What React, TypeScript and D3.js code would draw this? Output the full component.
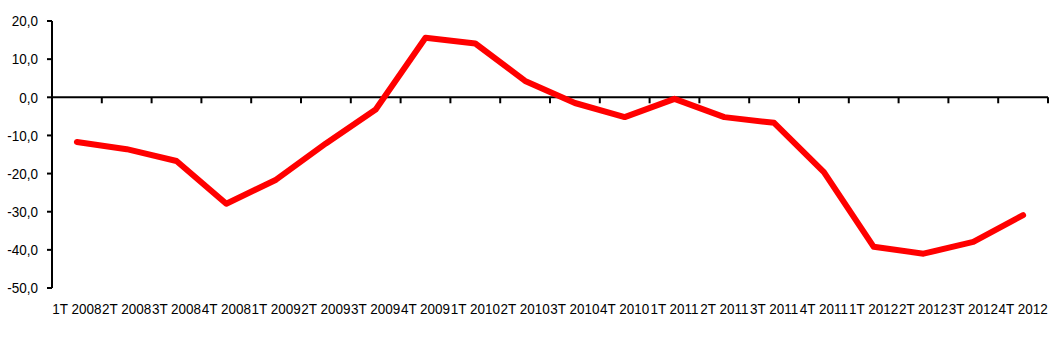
import React from "react";
import * as d3 from "d3";

const categories = [
  "1T 2008", "2T 2008", "3T 2008", "4T 2008",
  "1T 2009", "2T 2009", "3T 2009", "4T 2009",
  "1T 2010", "2T 2010", "3T 2010", "4T 2010",
  "1T 2011", "2T 2011", "3T 2011", "4T 2011",
  "1T 2012", "2T 2012", "3T 2012", "4T 2012",
];
const values = [
  -11.7, -13.6, -16.7, -27.9,
  -21.6, -12.1, -3.2, 15.6,
  14.1, 4.3, -1.5, -5.2,
  -0.4, -5.2, -6.7, -19.6,
  -39.2, -41.0, -37.9, -30.9,
];
const yTicks = [20, 10, 0, -10, -20, -30, -40, -50];

const W = 1062;
const H = 348;
const left = 52;
const right = 1048;
const top = 21;
const bottom = 288;

export default function App() {
  const x = d3.scaleBand<string>().domain(categories).range([left, right]).padding(0);
  const y = d3.scaleLinear().domain([-50, 20]).range([bottom, top]);
  const line = d3
    .line<number>()
    .x((_, i) => (x(categories[i]) as number) + x.bandwidth() / 2)
    .y((d) => y(d));
  const y0 = y(0);
  const font = "'Liberation Sans', Arial, sans-serif";
  const boundaries = categories.map((c) => (x(c) as number) + x.bandwidth());

  return (
    <svg
      width={W}
      height={H}
      style={{ position: "absolute", left: 0, top: 0, background: "#fff" }}
    >
      {/* y axis */}
      <line x1={left} x2={left} y1={top} y2={bottom} stroke="#000" strokeWidth={2} />
      {yTicks.map((t) => (
        <g key={t}>
          <line x1={left - 5} x2={left} y1={y(t)} y2={y(t)} stroke="#000" strokeWidth={2} />
          <text
            transform={`translate(38,${y(t) + 5.3}) scale(0.9,1)`}
            textAnchor="end"
            fontFamily={font}
            fontSize={15}
            fill="#000"
          >
            {d3.format(".1f")(t).replace(".", ",").replace("−", "-")}
          </text>
        </g>
      ))}
      {/* x axis at zero */}
      <line x1={left - 1} x2={right} y1={y0} y2={y0} stroke="#000" strokeWidth={2} />
      {boundaries.map((b, i) => (
        <line key={i} x1={b} x2={b} y1={y0} y2={y0 + 6} stroke="#000" strokeWidth={2} />
      ))}
      {categories.map((c) => (
        <text
          key={c}
          transform={`translate(${(x(c) as number) + x.bandwidth() / 2},313.5) scale(0.9,1)`}
          textAnchor="middle"
          fontFamily={font}
          fontSize={15}
          fill="#000"
        >
          {c}
        </text>
      ))}
      <path
        d={line(values) || ""}
        fill="none"
        stroke="#ff0000"
        strokeWidth={6}
        strokeLinejoin="round"
        strokeLinecap="round"
      />
    </svg>
  );
}
